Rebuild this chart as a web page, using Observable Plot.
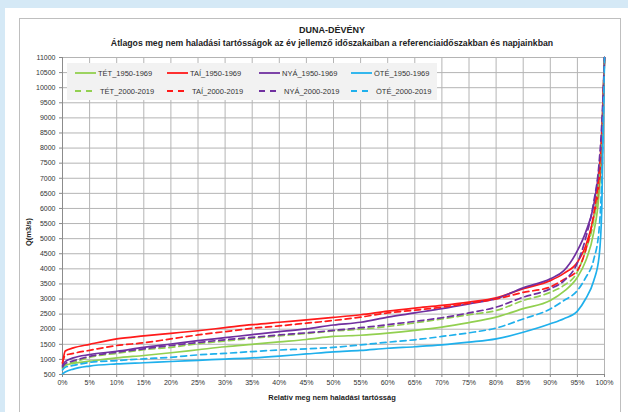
<!DOCTYPE html>
<html><head><meta charset="utf-8">
<script src="https://cdn.jsdelivr.net/npm/d3@7"></script>
<script src="https://cdn.jsdelivr.net/npm/@observablehq/plot@0.6"></script>
<style>
body{margin:0;background:#d5e9f6;width:628px;height:412px;overflow:hidden;font-family:"Liberation Sans",Arial,sans-serif;position:relative;}
#white{position:absolute;left:5px;top:8px;width:623px;height:404px;background:#fff;}
#frame{position:absolute;left:19px;top:18px;width:600px;height:420px;border:1px solid #bfbfbf;}
#chart{position:absolute;left:0;top:0;}
.t{position:absolute;left:0;width:664px;text-align:center;font-weight:bold;color:#222;white-space:nowrap;}
#ytitle{position:absolute;left:28px;top:232px;transform:translate(-50%,-50%) rotate(-90deg);font-weight:bold;font-size:7.5px;color:#222;white-space:nowrap;}
#legend{position:absolute;left:67px;top:63px;width:370px;height:37px;background:#f2f2f2;}
.le{position:absolute;font-size:7.5px;color:#333;white-space:nowrap;display:flex;align-items:center;}
.le svg{margin-right:1px;}
</style></head>
<body>
<div id="white"></div>
<div id="frame"></div>
<div id="chart"></div>
<div class="t" style="top:25px;font-size:9px;">DUNA-DÉVÉNY</div>
<div class="t" style="top:38px;font-size:8.7px;">Átlagos meg nem haladási tartósságok az év jellemző időszakaiban a referenciaidőszakban és napjainkban</div>
<div class="t" style="top:393px;font-size:7.5px;">Relatív meg nem haladási tartósság</div>
<div id="ytitle">Q(m3/s)</div>
<div id="legend"></div>
<script>
// relative exceedance (%) sample positions
const pct = [0, 0.5, 2, 5, 10, 15, 20, 25, 30, 35, 40, 45, 50, 55, 60, 65, 70, 75, 80, 85, 90, 92.5, 95, 96.5, 98, 99, 99.5, 100];
// discharge values Q (m3/s)
const tet1950 = [750, 800, 870, 940, 1050, 1130, 1220, 1320, 1420, 1500, 1580, 1660, 1760, 1800, 1870, 1960, 2070, 2220, 2400, 2680, 2950, 3250, 3720, 4250, 5200, 6500, 8000, 11000];
const tai1950 = [850, 1280, 1380, 1500, 1680, 1780, 1865, 1950, 2050, 2150, 2230, 2310, 2390, 2480, 2600, 2700, 2790, 2900, 3040, 3340, 3610, 3850, 4220, 4750, 5700, 6800, 8000, 11000];
const nya1950 = [800, 930, 1050, 1160, 1270, 1400, 1510, 1620, 1720, 1820, 1920, 2010, 2140, 2230, 2400, 2540, 2680, 2840, 3010, 3370, 3670, 3940, 4600, 5200, 6100, 7300, 8300, 11000];
const ote1950 = [520, 580, 680, 780, 850, 890, 930, 970, 1010, 1050, 1110, 1180, 1250, 1300, 1370, 1420, 1480, 1570, 1680, 1900, 2180, 2350, 2600, 3000, 3600, 4400, 6000, 11000];
const tet2000 = [700, 820, 900, 1070, 1200, 1320, 1400, 1520, 1610, 1700, 1780, 1860, 1940, 2000, 2090, 2210, 2340, 2480, 2620, 2950, 3220, 3450, 3900, 4600, 5600, 7000, 8500, 11000];
const tai2000 = [900, 1130, 1200, 1300, 1460, 1550, 1680, 1810, 1920, 2030, 2110, 2200, 2290, 2400, 2540, 2630, 2730, 2860, 3000, 3220, 3400, 3650, 3950, 4600, 5800, 7200, 8500, 11000];
const nya2000 = [750, 860, 950, 1100, 1240, 1350, 1460, 1560, 1650, 1730, 1810, 1880, 1960, 2050, 2150, 2260, 2380, 2540, 2730, 3060, 3340, 3600, 4200, 5000, 6200, 7500, 8800, 11000];
const ote2000 = [650, 740, 800, 900, 960, 1020, 1070, 1150, 1200, 1260, 1310, 1350, 1400, 1480, 1570, 1650, 1760, 1880, 2040, 2340, 2670, 2950, 3280, 3700, 4300, 5300, 7000, 11000];

const seriesNames = ["TÉT_1950-1969", "TAÍ_1950-1969", "NYÁ_1950-1969", "ÖTÉ_1950-1969", "TÉT_2000-2019", "TAÍ_2000-2019", "NYÁ_2000-2019", "ÖTÉ_2000-2019"];
const seriesValues = [tet1950, tai1950, nya1950, ote1950, tet2000, tai2000, nya2000, ote2000];
const seriesColors = ["#92d050", "#ff1a1a", "#7030a0", "#1fb0ec", "#92d050", "#ff1a1a", "#7030a0", "#1fb0ec"];
const seriesDashed = [false, false, false, false, true, true, true, true];

const xTicks = d3.range(0, 101, 5);
const yTicks = d3.range(500, 11001, 500);

const rows = [];
seriesNames.forEach((s, i) => pct.forEach((p, j) => rows.push({series: s, p, q: seriesValues[i][j]})));

const lineMarks = seriesNames.map((s, i) => Plot.line(rows.filter(r => r.series === s), {
  x: "p", y: "q", stroke: seriesColors[i], strokeWidth: 1.7,
  strokeDasharray: seriesDashed[i] ? "6,4" : null, curve: "monotone-x"
}));

const chart = Plot.plot({
  width: 628, height: 412,
  marginLeft: 62, marginRight: 24, marginTop: 57, marginBottom: 38,
  style: {background: "transparent", fontFamily: "Liberation Sans, Arial, sans-serif", fontSize: "7px", color: "#333", overflow: "visible"},
  x: {domain: [0, 100]},
  y: {domain: [500, 11000]},
  marks: [
    Plot.gridX(xTicks, {stroke: "#b4b4b4", strokeOpacity: 1}),
    Plot.gridY(yTicks, {stroke: "#b4b4b4", strokeOpacity: 1}),
    Plot.axisX({ticks: xTicks, tickFormat: d => d + "%", label: null, tickSize: 3, tickPadding: 3, stroke: "#888"}),
    Plot.axisY({ticks: yTicks, tickFormat: d => String(d), label: null, tickSize: 3, tickPadding: 4, stroke: "#888"}),
    Plot.ruleX([0], {stroke: "#8c8c8c"}),
    Plot.ruleY([500], {stroke: "#8c8c8c"}),
    ...lineMarks
  ]
});
document.getElementById("chart").appendChild(chart);

// legend
const leg = document.getElementById("legend");
seriesNames.forEach((s, i) => {
  const col = i % 4, row = Math.floor(i / 4);
  const div = document.createElement("div");
  div.className = "le";
  div.style.left = (8 + col * 92) + "px";
  div.style.top = (row === 0 ? 5 : 23) + "px";
  div.style.height = "10px";
  const dash = seriesDashed[i] ? 'stroke-dasharray="6,5"' : "";
  div.innerHTML = `<svg width="22" height="6"><line x1="0" y1="3" x2="21" y2="3" stroke="${seriesColors[i]}" stroke-width="1.8" ${dash}/></svg><span${seriesDashed[i] ? ' style="margin-left:2px"' : ''}>${s}</span>`;
  leg.appendChild(div);
});
</script>
</body></html>
